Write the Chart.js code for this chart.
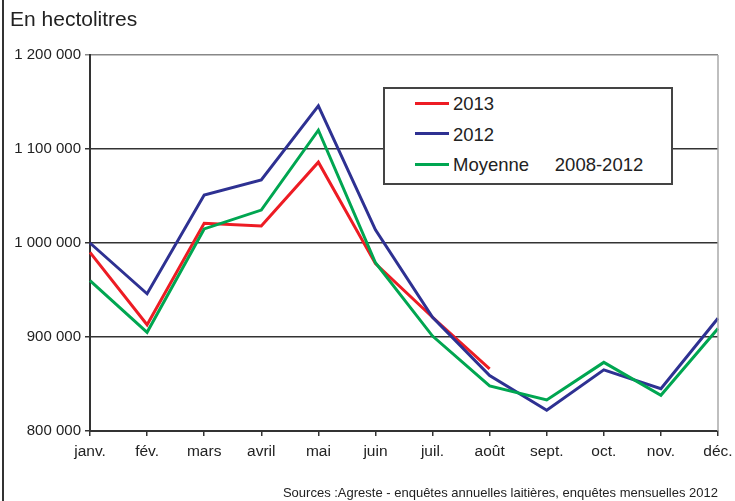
<!DOCTYPE html>
<html>
<head>
<meta charset="utf-8">
<script src="https://cdn.jsdelivr.net/npm/chart.js@4"></script>
<style>
  body { margin: 0; background: #fff; font-family: "Liberation Sans", Arial, sans-serif; }
  #wrap { position: relative; width: 735px; height: 501px; }
  #frame { position: absolute; left: 2px; top: 0; width: 2px; height: 501px; background: #333; }
  #title { position: absolute; left: 10px; top: 7px; font-size: 21px; color: #222; }
  #source { position: absolute; right: 17px; top: 485px; font-size: 13px; color: #222; }
  #legend { position: absolute; left: 383px; top: 87px; width: 286px; height: 94px; border: 2px solid #444; background: #fff; }
  .row { position: absolute; left: 30px; font-size: 18.5px; color: #222; white-space: pre; line-height: 20px; }
  .row span { display: inline-block; width: 34px; height: 3px; margin-right: 4px; vertical-align: middle; position: relative; top: -2px; }
</style>
</head>
<body>
<div id="wrap">
  <canvas id="myChart" width="735" height="501"></canvas>
  <div id="frame"></div>
  <div id="title">En hectolitres</div>
  <div id="legend"></div>
  <div id="source">Sources :Agreste - enquêtes annuelles laitières, enquêtes mensuelles 2012</div>
</div>
<script>
const mois = ['janv.', 'fév.', 'mars', 'avril', 'mai', 'juin', 'juil.', 'août', 'sept.', 'oct.', 'nov.', 'déc.'];
const noms = ['2013', '2012', 'Moyenne     2008-2012'];
const couleurs = ['#ed1c24', '#2e3192', '#00a651'];
const val2013 = [990000, 913000, 1021000, 1018000, 1086000, 978000, 921000, 866000, null, null, null, null];
const val2012 = [1000000, 946000, 1051000, 1067000, 1146000, 1014000, 921000, 859000, 822000, 865000, 845000, 920000];
const moyenne = [960000, 905000, 1015000, 1035000, 1120000, 979000, 901000, 848000, 833000, 873000, 838000, 909000];
const yTicks = [800000, 900000, 1000000, 1100000, 1200000];

const series = [val2013, val2012, moyenne];

// legende html
const legend = document.getElementById('legend');
noms.forEach(function (nom, i) {
    legend.innerHTML += '<div class="row" style="top:' + (5 + i * 30.5) + 'px"><span style="background:' + couleurs[i] + '"></span>' + nom + '</div>';
});

const bordDroit = {
    id: 'bordDroit',
    afterDraw(chart) {
        const a = chart.chartArea;
        const ctx = chart.ctx;
        ctx.save();
        ctx.strokeStyle = '#aaa';
        ctx.lineWidth = 1.5;
        ctx.beginPath();
        ctx.moveTo(a.right, a.top);
        ctx.lineTo(a.right, a.bottom);
        ctx.stroke();
        ctx.restore();
    }
};

const ctx = document.getElementById('myChart').getContext('2d');
const myChart = new Chart(ctx, {
    type: 'line',
    data: {
        labels: mois,
        datasets: series.map((d, i) => ({
            label: noms[i],
            data: d,
            borderColor: couleurs[i],
            backgroundColor: couleurs[i],
            borderWidth: 3,
            pointRadius: 0,
            tension: 0,
            spanGaps: false
        })).reverse()
    },
    options: {
        responsive: false,
        animation: false,
        layout: { padding: { left: 0, top: 55, right: 17, bottom: 0 } },
        plugins: { legend: { display: false }, tooltip: { enabled: false } },
        scales: {
            x: {
                offset: false,
                afterFit(scale) {
                    scale.height = 70;
                    scale.paddingLeft = 0;
                    scale.paddingRight = 0;
                },
                grid: { drawOnChartArea: false, drawTicks: true, tickLength: 5, color: '#333', lineWidth: 1.5 },
                border: { color: '#333', width: 2 },
                ticks: { color: '#222', font: { family: 'Liberation Sans', size: 15.5 }, padding: 6, maxRotation: 0, autoSkip: false }
            },
            y: {
                min: 800000,
                max: 1200000,
                afterFit(scale) {
                    scale.width = 90;
                    scale.paddingTop = 0;
                    scale.paddingBottom = 0;
                },
                afterBuildTicks(scale) { scale.ticks = yTicks.map(v => ({ value: v })); },
                grid: {
                    color: c => c.tick && c.tick.value === 1200000 ? '#888' : '#333',
                    lineWidth: 1.5,
                    tickLength: 5
                },
                border: { color: '#333', width: 2 },
                ticks: {
                    color: '#222',
                    font: { family: 'Liberation Sans', size: 15 },
                    padding: 4,
                    callback: v => v.toString().replace(/\B(?=(\d{3})+(?!\d))/g, ' ')
                }
            }
        }
    },
    plugins: [bordDroit]
});
</script>
</body>
</html>
